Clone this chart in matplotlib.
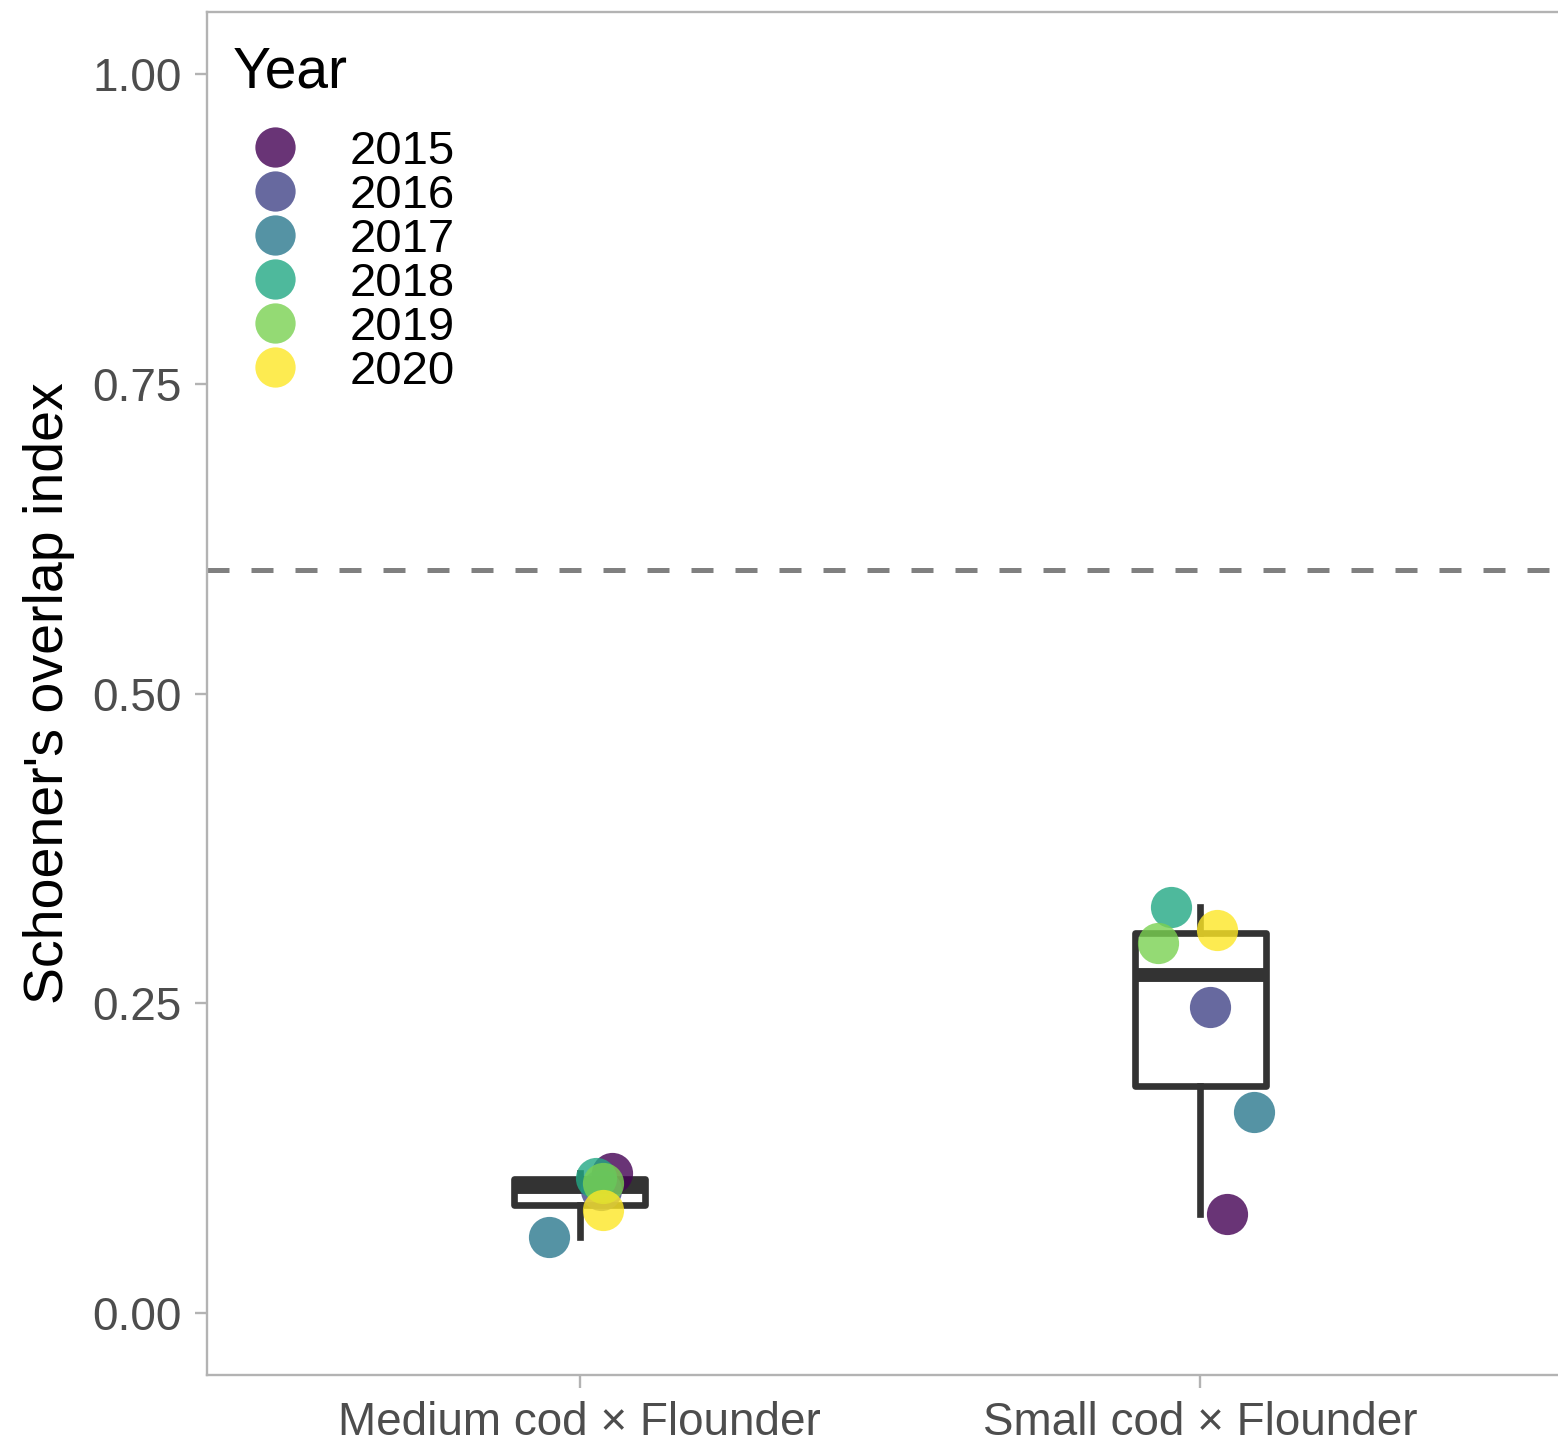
import matplotlib
matplotlib.use("Agg")
import matplotlib.pyplot as plt
from matplotlib.lines import Line2D
import numpy as np

plt.rcParams["font.family"] = ["Liberation Sans", "DejaVu Sans"]

# data
groups = ["Medium cod × Flounder", "Small cod × Flounder"]
years = ["2015", "2016", "2017", "2018", "2019", "2020"]
year_colors = ["#440154", "#414487", "#2A788E", "#22A884", "#7AD151", "#FDE725"]
medium_overlap = [0.113, 0.099, 0.061, 0.109, 0.105, 0.083]
small_overlap = [0.080, 0.247, 0.162, 0.328, 0.299, 0.309]
# horizontal jitter of the points (category units)
medium_jitter = [0.053, 0.034, -0.050, 0.026, 0.037, 0.037]
small_jitter = [0.042, 0.015, 0.087, -0.047, -0.068, 0.027]
threshold = 0.6

W, H, DPI = 1558, 1445, 100
fig = plt.figure(figsize=(W / DPI, H / DPI), dpi=DPI)
ax = fig.add_axes([207 / W, 1 - 1375 / H, 1366 / W, (1375 - 12) / H])

positions = [1, 2]
box_color = "#333333"
ax.boxplot(
    [medium_overlap, small_overlap],
    positions=positions,
    widths=0.21,
    whis=1.5,
    showfliers=False,
    showcaps=False,
    patch_artist=True,
    boxprops=dict(facecolor="white", edgecolor=box_color, linewidth=4.8,
                  joinstyle="round"),
    whiskerprops=dict(color=box_color, linewidth=4.8),
    medianprops=dict(color=box_color, linewidth=10, solid_capstyle="butt"),
    zorder=2,
)

ax.axhline(threshold, color="#808080", linewidth=3.6,
           linestyle=(0, (4.4, 4.4)), zorder=1)

for pos, values, jitter in ((1, medium_overlap, medium_jitter),
                            (2, small_overlap, small_jitter)):
    xs = pos + np.array(jitter)
    for x, y, c in zip(xs, values, year_colors):
        ax.scatter(x, y, s=880, color=c, alpha=0.8, linewidths=0, zorder=3)

ax.set_xlim(0.4, 2.6)
ax.set_ylim(-0.05, 1.05)
ax.set_yticks([0, 0.25, 0.5, 0.75, 1.0])
ax.set_yticklabels(["0.00", "0.25", "0.50", "0.75", "1.00"])
ax.set_xticks(positions)
ax.set_xticklabels(groups)
ax.set_ylabel("Schoener's overlap index", fontsize=40, color="black", labelpad=13)

for side, spine in ax.spines.items():
    spine.set_color("#b3b3b3")
    spine.set_linewidth(1.7)
ax.tick_params(axis="both", colors="#b3b3b3", width=1.7, length=9,
               labelsize=33, labelcolor="#4d4d4d")
ax.tick_params(axis="y", pad=9)
ax.tick_params(axis="x", pad=10)

handles = [
    Line2D([], [], marker="o", linestyle="none", markersize=29,
           markerfacecolor=c, markeredgewidth=0, alpha=0.8)
    for c in year_colors
]
leg = ax.legend(handles, years, title="Year", loc="upper left",
                bbox_to_anchor=(-0.0055, 0.9997), frameon=False, fontsize=34,
                title_fontsize=41, labelspacing=0.0, handletextpad=0.67,
                handlelength=1.8, borderpad=0.2)
leg._legend_box.align = "left"
leg._legend_box.sep = 22

fig.savefig("out.png", dpi=DPI)
